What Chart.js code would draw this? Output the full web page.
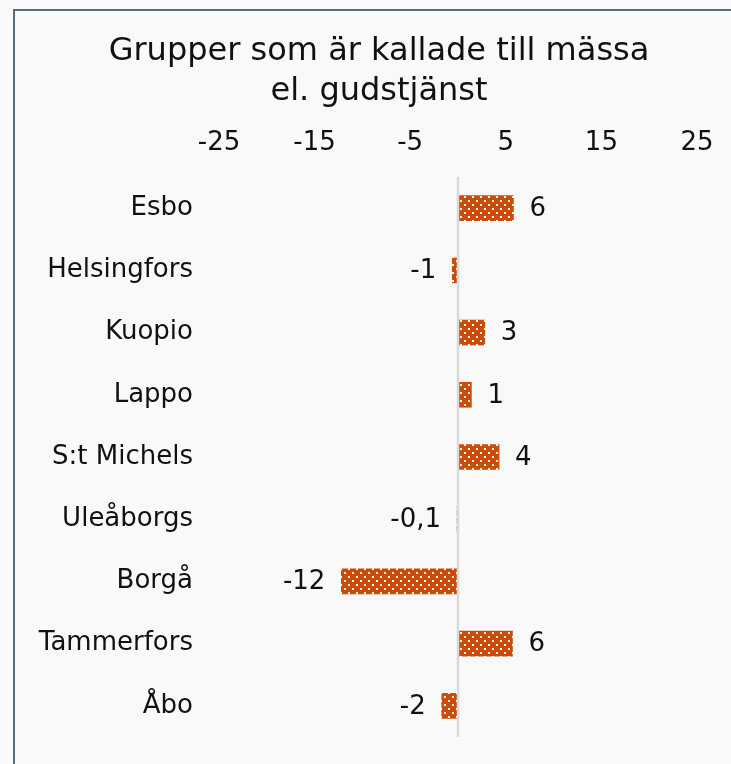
<!DOCTYPE html>
<html>
<head>
<meta charset="utf-8">
<script src="https://cdn.jsdelivr.net/npm/chart.js@4"></script>
<style>
  html, body { margin: 0; padding: 0; background: #f9f9f9; overflow: hidden; }
  #frame {
    position: absolute; left: 13px; top: 9px;
    width: 728px; height: 770px;
    border-left: 2px solid #5d6b82; border-top: 2px solid #5d6b82;
    background: #f9f9f9;
  }
</style>
</head>
<body>
<div id="frame"><canvas id="myChart" width="728" height="770"></canvas></div>
<script>
// data
let groups = ["Esbo", "Helsingfors", "Kuopio", "Lappo", "S:t Michels", "Uleåborgs", "Borgå", "Tammerfors", "Åbo"];
let change = [5.8, -0.6, 2.8, 1.4, 4.3, -0.1, -12.2, 5.7, -1.7];
let changeText = ["6", "-1", "3", "1", "4", "-0,1", "-12", "6", "-2"];
let titleLines = ["Grupper som är kallade till mässa", "el. gudstjänst"];

const FONT = "'DejaVu Sans', Verdana, sans-serif";
const textColor = "#111111";

// orange with small white dots
function dotPattern() {
    var c = document.createElement("canvas");
    c.width = 8; c.height = 8;
    var g = c.getContext("2d");
    g.fillStyle = "#cf4a05";
    g.fillRect(0, 0, 8, 8);
    g.fillStyle = "#ffffff";
    g.fillRect(1, 1, 2, 2);
    g.fillRect(5, 5, 2, 2);
    return g.createPattern(c, "repeat");
}

// light vertical line at zero + value labels
const extras = {
    id: "extras",
    afterDatasetsDraw(chart) {
        var ctx = chart.ctx;
        var x0 = chart.scales.x.getPixelForValue(0);
        var area = chart.chartArea;
        ctx.save();
        ctx.strokeStyle = "#d9d9d9";
        ctx.lineWidth = 2.5;
        ctx.beginPath();
        ctx.moveTo(x0, area.top);
        ctx.lineTo(x0, area.bottom);
        ctx.stroke();

        ctx.font = "26px " + FONT;
        ctx.fillStyle = textColor;
        ctx.textBaseline = "middle";
        chart.getDatasetMeta(0).data.forEach(function (bar, i) {
            var v = change[i];
            if (v >= 0) {
                ctx.textAlign = "left";
                ctx.fillText(changeText[i], bar.x + 16, bar.y + 1);
            } else {
                ctx.textAlign = "right";
                ctx.fillText(changeText[i], Math.min(bar.x, x0) - 16, bar.y + 1);
            }
        });
        ctx.restore();
    }
};

new Chart("myChart", {
    type: "bar",
    data: {
        labels: groups,
        datasets: [{
            data: change,
            backgroundColor: dotPattern(),
            borderWidth: 0,
            barThickness: 25
        }]
    },
    options: {
        indexAxis: "y",
        responsive: false,
        animation: false,
        layout: {padding: {bottom: 44}},
        plugins: {
            legend: {display: false},
            tooltip: {enabled: false},
            title: {
                display: true,
                text: titleLines,
                color: textColor,
                font: {family: FONT, size: 32, weight: "normal", lineHeight: 1.25},
                padding: {top: 21, bottom: 0}
            }
        },
        scales: {
            x: {
                position: "top",
                min: -25,
                max: 25,
                ticks: {
                    stepSize: 10,
                    color: textColor,
                    padding: 18,
                    font: {family: FONT, size: 26}
                },
                grid: {display: false, drawTicks: false},
                border: {display: false},
                afterFit: function (scale) { scale.height = 65; }
            },
            y: {
                ticks: {
                    color: textColor,
                    padding: 26,
                    font: {family: FONT, size: 26}
                },
                grid: {display: false, drawTicks: false},
                border: {display: false},
                afterFit: function (scale) { scale.width = 204; }
            },
            // empty right axis, only keeps room on the right so the title stays centred on the frame
            y2: {
                position: "right",
                type: "category",
                labels: groups,
                ticks: {display: false},
                grid: {display: false, drawTicks: false},
                border: {display: false},
                afterFit: function (scale) { scale.width = 46; }
            }
        }
    },
    plugins: [extras]
});
</script>
</body>
</html>
